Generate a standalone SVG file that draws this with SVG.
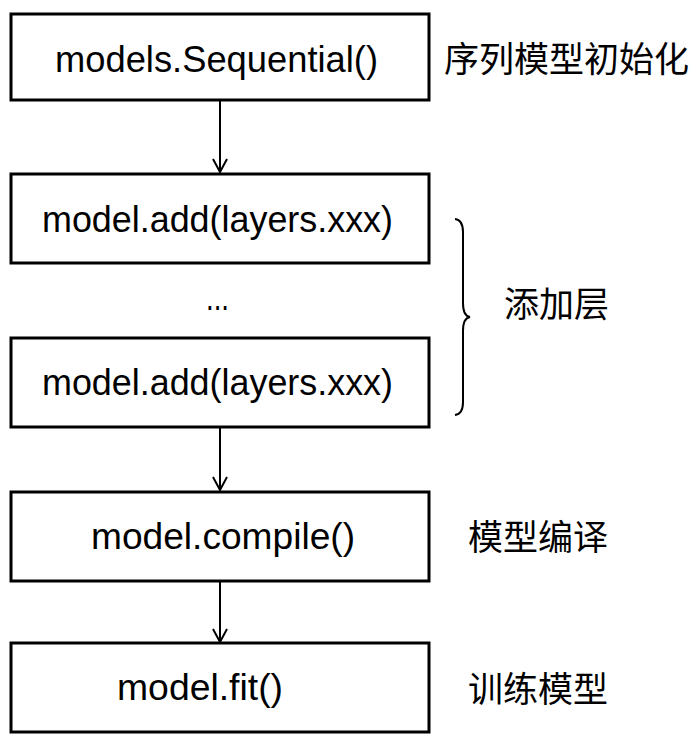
<svg xmlns="http://www.w3.org/2000/svg" width="697" height="741" viewBox="0 0 697 741">
<style>
.box{fill:#fff;stroke:#000;stroke-width:3}
.code{font-family:"Liberation Sans","Noto Sans",sans-serif;font-size:36px;fill:#000}
.lbl{font-family:"Noto Sans CJK SC",sans-serif;font-size:35px;fill:#000}
.conn{fill:none;stroke:#000;stroke-width:2}
</style>
<defs>
<marker id="arr" markerWidth="16" markerHeight="16" refX="14" refY="8" orient="auto" markerUnits="userSpaceOnUse" viewBox="0 0 16 16">
<path d="M1,1 L14,8 L1,15" fill="none" stroke="#000" stroke-width="2"/>
</marker>
</defs>
<rect width="697" height="741" fill="#fff"/>
<g id="connectors">
<line class="conn" x1="220" y1="100" x2="220" y2="172" marker-end="url(#arr)"/>
<line class="conn" x1="220" y1="427" x2="220" y2="490" marker-end="url(#arr)"/>
<line class="conn" x1="220" y1="582" x2="220" y2="642" marker-end="url(#arr)"/>
</g>
<g id="n1">
<rect class="box" x="11" y="14" width="418" height="86"/>
<text class="code" x="55" y="72" textLength="323" lengthAdjust="spacingAndGlyphs">models.Sequential()</text>
</g>
<g id="n2">
<rect class="box" x="11" y="174" width="418" height="89"/>
<text class="code" x="42" y="232" textLength="351" lengthAdjust="spacingAndGlyphs">model.add(layers.xxx)</text>
</g>
<g id="dots">
<text class="code" x="206" y="310" textLength="23" lengthAdjust="spacingAndGlyphs">...</text>
</g>
<g id="n3">
<rect class="box" x="11" y="338" width="418" height="89"/>
<text class="code" x="42" y="395" textLength="351" lengthAdjust="spacingAndGlyphs">model.add(layers.xxx)</text>
</g>
<g id="n4">
<rect class="box" x="11" y="492" width="418" height="89"/>
<text class="code" x="91" y="549" textLength="264" lengthAdjust="spacingAndGlyphs">model.compile()</text>
</g>
<g id="n5">
<rect class="box" x="11" y="643" width="418" height="89"/>
<text class="code" x="117" y="700" textLength="166" lengthAdjust="spacingAndGlyphs">model.fit()</text>
</g>
<g id="brace">
<path class="conn" d="M455,219 Q463,220 463,232 L463,303 Q463,316 470,317 Q463,318 463,331 L463,402 Q463,414 455,415"/>
</g>
<g id="labels">
<text class="lbl" x="444" y="72">序列模型初始化</text>
<text class="lbl" x="504" y="317">添加层</text>
<text class="lbl" x="468" y="550">模型编译</text>
<text class="lbl" x="468" y="702">训练模型</text>
</g>
</svg>
